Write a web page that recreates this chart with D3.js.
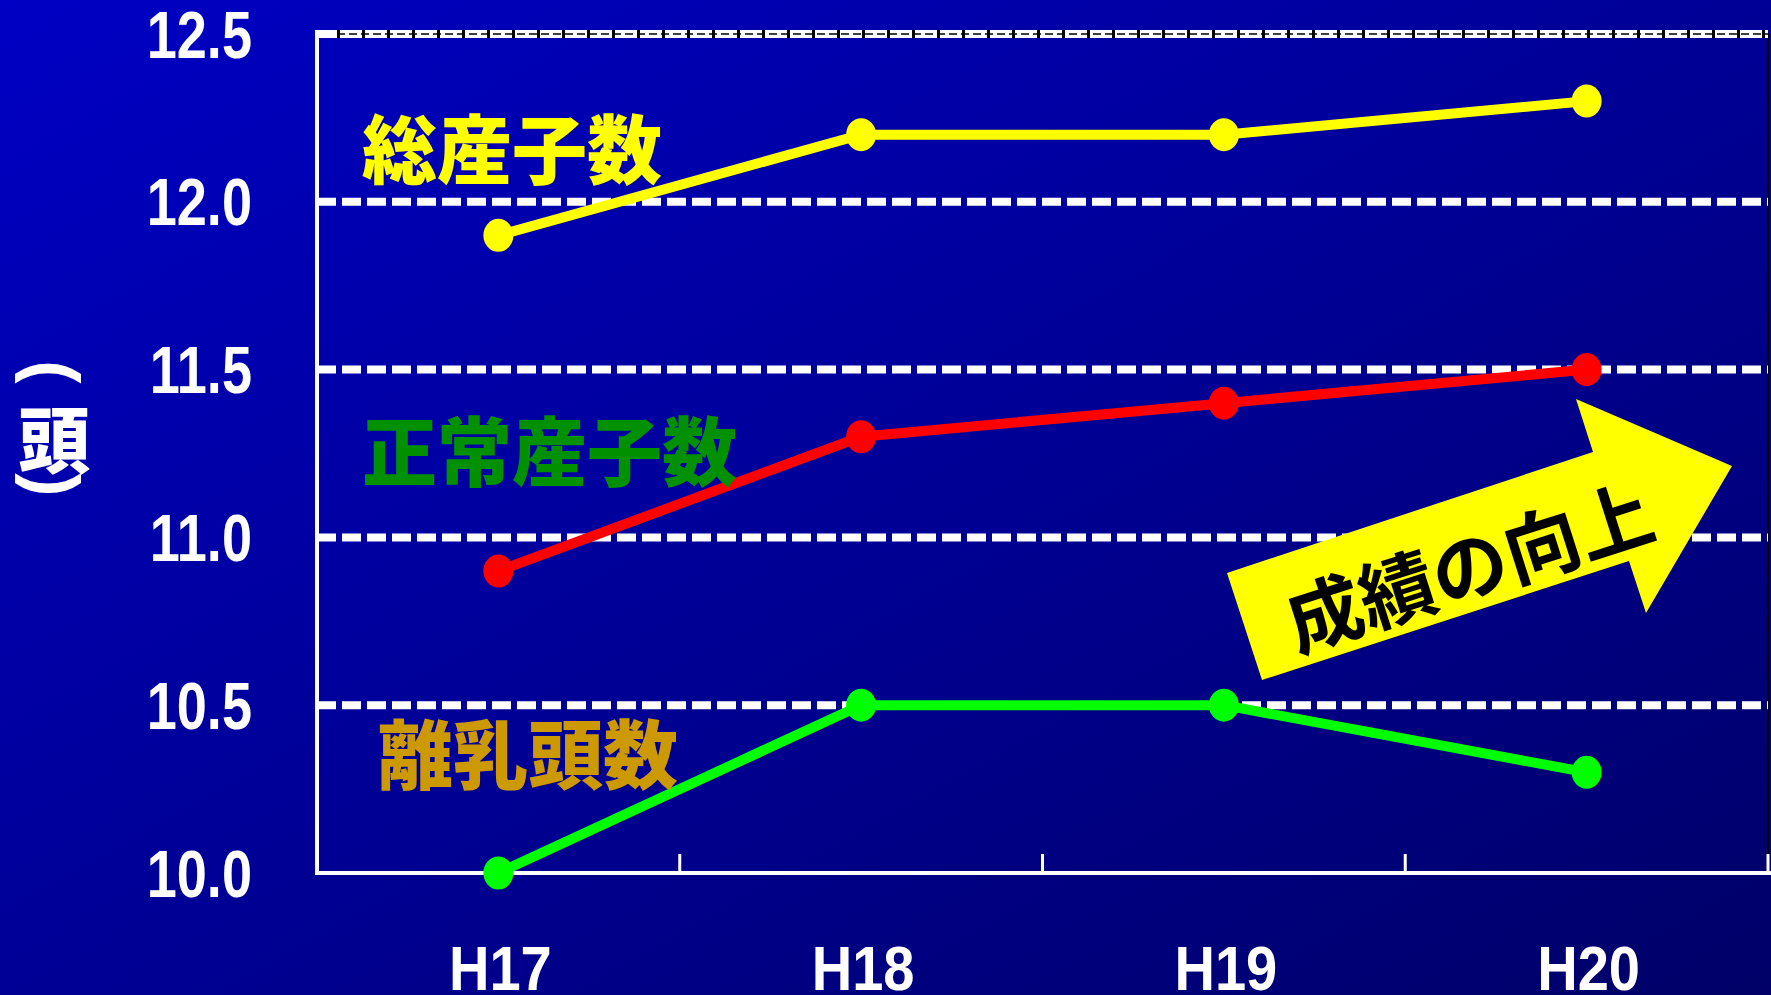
<!DOCTYPE html>
<html><head><meta charset="utf-8">
<script src="https://cdn.jsdelivr.net/npm/d3@7"></script>
<style>html,body{margin:0;padding:0;background:#0000a0;overflow:hidden}</style>
</head><body>
<script>
const categories = ["H17", "H18", "H19", "H20"];
const totalBorn = [11.9, 12.2, 12.2, 12.3];     // 総産子数
const normalBorn = [10.9, 11.3, 11.4, 11.5];    // 正常産子数
const weaned = [10.0, 10.5, 10.5, 10.3];        // 離乳頭数
const yTicks = [10.0, 10.5, 11.0, 11.5, 12.0, 12.5];
const seriesNames = ["総産子数", "正常産子数", "離乳頭数"];
const unitLabel = "頭";
const arrowLabel = "成績の向上";

const W = 1771, H = 995;
const L = 317, R = 1768, T = 34, B = 873;

const svg = d3.select("body").append("svg").attr("width", W).attr("height", H);
const defs = svg.append("defs");
const grad = defs.append("linearGradient").attr("id", "bg")
  .attr("x1", 0).attr("y1", 0).attr("x2", 1).attr("y2", 1);
grad.append("stop").attr("offset", 0).attr("stop-color", "#0000c4");
grad.append("stop").attr("offset", 1).attr("stop-color", "#000068");
svg.append("rect").attr("width", W).attr("height", H).attr("fill", "url(#bg)");

const x = d3.scaleBand().domain(categories).range([L, R]).padding(0);
const y = d3.scaleLinear().domain([10, 12.5]).range([B, T]);
const cx = c => x(c) + x.bandwidth() / 2;

// right plot border (thin black)
svg.append("line").attr("x1", R).attr("x2", R).attr("y1", T).attr("y2", B - 18)
  .attr("stroke", "#000", "stroke-width").attr("stroke-width", 2);

// gridlines
yTicks.filter(v => v > 10 && v < 12.5).forEach(v => {
  svg.append("line").attr("x1", L).attr("x2", R).attr("y1", y(v)).attr("y2", y(v))
    .attr("stroke", "#fff").attr("stroke-width", 8).attr("stroke-dasharray", "19 6");
});
// top gridline (special pattern)
svg.append("line").attr("x1", L).attr("x2", R).attr("y1", y(12.5)).attr("y2", y(12.5))
  .attr("stroke", "#fff").attr("stroke-width", 8);
svg.append("line").attr("x1", L + 20).attr("x2", R).attr("y1", y(12.5)).attr("y2", y(12.5))
  .attr("stroke", "#000").attr("stroke-width", 8).attr("stroke-dasharray", "3 22");
svg.append("line").attr("x1", L + 20).attr("x2", R).attr("y1", y(12.5)).attr("y2", y(12.5))
  .attr("stroke", "#000").attr("stroke-width", 1.6).attr("stroke-dasharray", "8 4");

// axes lines
svg.append("line").attr("x1", L).attr("x2", L).attr("y1", T - 4).attr("y2", B + 2)
  .attr("stroke", "#fff").attr("stroke-width", 4);
svg.append("line").attr("x1", L - 2).attr("x2", R + 3).attr("y1", B).attr("y2", B)
  .attr("stroke", "#fff").attr("stroke-width", 4);
// x ticks at band boundaries (pointing up)
const bounds = categories.slice(1).map(c => x(c)).concat([R]);
bounds.forEach(b => {
  svg.append("line").attr("x1", b).attr("x2", b).attr("y1", B).attr("y2", B - 19)
    .attr("stroke", "#fff").attr("stroke-width", 3);
});

// y axis labels via d3 axis
const yAxis = svg.append("g").attr("transform", `translate(${L},0)`)
  .call(d3.axisLeft(y).tickValues(yTicks).tickFormat(d3.format(".1f")).tickSize(0).tickPadding(0));
yAxis.select(".domain").remove();
yAxis.selectAll("text")
  .attr("x", 0).attr("dy", null).attr("y", 23)
  .attr("transform", "translate(-65,0) scale(0.82,1)")
  .attr("fill", "#fff").attr("font-family", "Liberation Sans, Arial, sans-serif")
  .attr("font-weight", "bold").attr("font-size", 66).attr("text-anchor", "end");

// x axis labels via d3 axis
const xAxis = svg.append("g").attr("transform", `translate(0,${B})`)
  .call(d3.axisBottom(x).tickSize(0).tickPadding(0));
xAxis.select(".domain").remove();
xAxis.selectAll("text")
  .attr("y", 0).attr("dy", null)
  .attr("transform", "translate(0,117) scale(0.89,1)")
  .attr("fill", "#fff").attr("font-family", "Liberation Sans, Arial, sans-serif")
  .attr("font-weight", "bold").attr("font-size", 63).attr("text-anchor", "middle");
xAxis.selectAll(".tick").each(function(d) {
  d3.select(this).attr("transform", `translate(${cx(d) + 2},0)`);
});

// unit label (頭) vertical
const unitG = svg.append("g").attr("fill", "#fff").attr("font-weight", "bold");
unitG.append("text").attr("transform", "translate(54,372) rotate(90)")
  .attr("text-anchor", "middle").attr("dominant-baseline", "central")
  .attr("font-family", "Liberation Sans, Arial, sans-serif").attr("font-size", 70).text("(");
unitG.append("text").attr("x", 54).attr("y", 435)
  .attr("text-anchor", "middle").attr("dominant-baseline", "central")
  .attr("font-family", "Noto Sans CJK JP").attr("font-size", 72).attr("font-weight", 900).text(unitLabel);
unitG.append("text").attr("transform", "translate(54,485) rotate(90)")
  .attr("text-anchor", "middle").attr("dominant-baseline", "central")
  .attr("font-family", "Liberation Sans, Arial, sans-serif").attr("font-size", 70).text(")");

// arrow
const arrowPts = [[1262,680],[1227,573],[1593,452],[1576,399],[1732,466],[1646,613],[1629,561]];
svg.append("polygon").attr("points", arrowPts.map(p => p.join(",")).join(" ")).attr("fill", "#ffff00");
svg.append("text").attr("transform", "translate(1468,563) rotate(-17.7)")
  .attr("text-anchor", "middle").attr("dominant-baseline", "central")
  .attr("font-family", "Noto Sans CJK JP").attr("font-weight", 700).attr("font-size", 76)
  .attr("fill", "#000").text(arrowLabel);

// series
const series = [
  {vals: totalBorn, color: "#ffff00"},
  {vals: normalBorn, color: "#ff0000"},
  {vals: weaned, color: "#00ff00"}
];
const line = d3.line().x(d => cx(d.c)).y(d => y(d.v));
series.forEach(s => {
  const pts = categories.map((c, i) => ({c, v: s.vals[i]}));
  svg.append("path").attr("d", line(pts)).attr("fill", "none")
    .attr("stroke", s.color).attr("stroke-width", 10);
  svg.selectAll(null).data(pts).enter().append("ellipse")
    .attr("cx", d => cx(d.c)).attr("cy", d => y(d.v)).attr("rx", 15).attr("ry", 16.5)
    .attr("fill", s.color);
});

// series labels
const labelInfo = [
  {t: seriesNames[0], x: 362, y: 145, c: "#ffff00"},
  {t: seriesNames[1], x: 362, y: 447, c: "#009000"},
  {t: seriesNames[2], x: 378, y: 750, c: "#cc9900"}
];
labelInfo.forEach(l => {
  svg.append("text").attr("x", l.x).attr("y", l.y).attr("dominant-baseline", "central")
    .attr("font-family", "Noto Sans CJK JP").attr("font-weight", 900).attr("font-size", 75)
    .attr("fill", l.c).text(l.t);
});
</script>
</body></html>
